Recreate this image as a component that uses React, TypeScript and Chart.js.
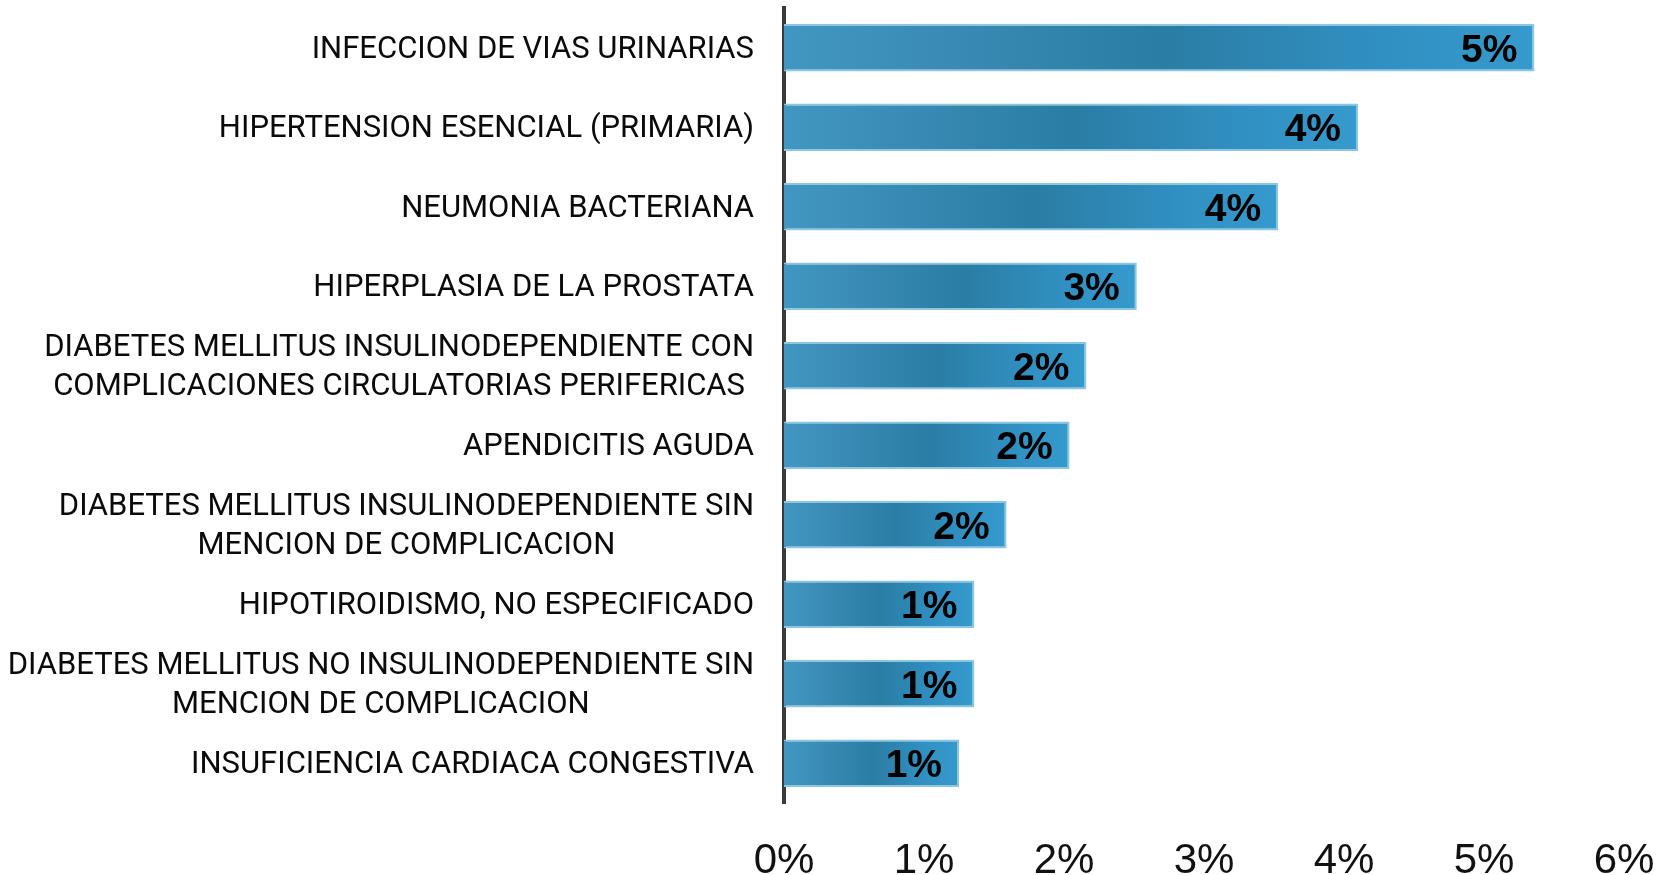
import React, { useEffect, useRef } from "react";
import { Chart, registerables } from "chart.js";

Chart.register(...registerables);

const categories: string[][] = [
  ["INFECCION DE VIAS URINARIAS"],
  ["HIPERTENSION ESENCIAL (PRIMARIA)"],
  ["NEUMONIA BACTERIANA"],
  ["HIPERPLASIA DE LA PROSTATA"],
  ["DIABETES MELLITUS INSULINODEPENDIENTE CON", "COMPLICACIONES CIRCULATORIAS PERIFERICAS"],
  ["APENDICITIS AGUDA"],
  ["DIABETES MELLITUS INSULINODEPENDIENTE SIN", "MENCION DE COMPLICACION"],
  ["HIPOTIROIDISMO, NO ESPECIFICADO"],
  ["DIABETES MELLITUS NO INSULINODEPENDIENTE SIN", "MENCION DE COMPLICACION"],
  ["INSUFICIENCIA CARDIACA CONGESTIVA"],
];

const values: number[] = [5.36, 4.1, 3.53, 2.52, 2.16, 2.04, 1.59, 1.36, 1.36, 1.25];
const dataLabels: string[] = ["5%", "4%", "4%", "3%", "2%", "2%", "2%", "1%", "1%", "1%"];
const xTicks: number[] = [0, 1, 2, 3, 4, 5, 6];

const LABEL_FONT = "31px Roboto";
const NARROW = "'Liberation Sans Narrow', 'Arial Narrow', sans-serif";

const yLabelPlugin = {
  id: "yLabelPlugin",
  afterDraw(chart: any) {
    const ctx = chart.ctx;
    const y = chart.scales.y;
    const right = chart.chartArea.left - 30;
    ctx.save();
    ctx.font = LABEL_FONT;
    ctx.fillStyle = "#0a0a0a";
    ctx.textBaseline = "middle";
    ctx.textAlign = "center";
    const lh = 39;
    categories.forEach((lines, i) => {
      const cy = y.getPixelForValue(i) + 2;
      const w = Math.max(...lines.map((l) => ctx.measureText(l).width));
      const cx = right - w / 2;
      const start = cy - ((lines.length - 1) * lh) / 2;
      lines.forEach((l, j) => ctx.fillText(l, cx, start + j * lh));
    });
    ctx.restore();
  },
};

const dataLabelPlugin = {
  id: "dataLabelPlugin",
  afterDatasetsDraw(chart: any) {
    const ctx = chart.ctx;
    const meta = chart.getDatasetMeta(0);
    ctx.save();
    ctx.font = "bold 39px 'Liberation Sans', Arial, sans-serif";
    ctx.fillStyle = "#000000";
    ctx.textAlign = "right";
    ctx.textBaseline = "middle";
    meta.data.forEach((bar: any, i: number) => {
      ctx.fillText(dataLabels[i], bar.x - 17, bar.y + 3);
    });
    ctx.restore();
  },
};

export default function App() {
  const ref = useRef<HTMLCanvasElement | null>(null);
  useEffect(() => {
    if (!ref.current) return;
    const chart = new Chart(ref.current, {
      type: "bar",
      data: {
        labels: categories.map((c) => c.join(" ")),
        datasets: [
          {
            data: values,
            backgroundColor: (c: any) => {
              const ch = c.chart;
              const xs = ch.scales?.x;
              if (!xs || !ch.chartArea || c.dataIndex === undefined) return "#2f8bb8";
              const x0 = xs.getPixelForValue(0);
              const x1 = xs.getPixelForValue(values[c.dataIndex]);
              if (!isFinite(x0) || !isFinite(x1) || x1 <= x0) return "#2f8bb8";
              const g = ch.ctx.createLinearGradient(x0, 0, x1, 0);
              g.addColorStop(0, "#4197c1");
              g.addColorStop(0.2, "#3a8cb6");
              g.addColorStop(0.5, "#2a7da4");
              g.addColorStop(0.8, "#3190c2");
              g.addColorStop(1, "#359acd");
              return g;
            },
            borderColor: "#8cc6e2",
            borderWidth: { top: 2, right: 2, bottom: 2, left: 0 },
            borderSkipped: "left",
            barPercentage: 0.6,
            categoryPercentage: 1,
          },
        ],
      },
      options: {
        indexAxis: "y",
        animation: false,
        responsive: false,
        devicePixelRatio: 1,
        layout: { padding: { top: 8, right: 37, bottom: 0, left: 0 } },
        plugins: { legend: { display: false }, tooltip: { enabled: false } },
        scales: {
          x: {
            min: 0,
            max: 6,
            afterBuildTicks: (s: any) => {
              s.ticks = xTicks.map((v) => ({ value: v }));
            },
            afterFit: (s: any) => {
              s.height = 72;
              s.paddingRight = 0;
              s.paddingLeft = 0;
            },
            grid: { display: false, drawTicks: false },
            border: { display: false },
            ticks: {
              padding: 33,
              color: "#111111",
              font: { family: NARROW, size: 42 },
              callback: (v: any) => v + "%",
            },
          },
          y: {
            afterFit: (s: any) => {
              s.width = 784;
              s.paddingTop = 0;
              s.paddingBottom = 0;
            },
            grid: { display: false, drawTicks: false },
            border: { display: true, color: "#3a3a3a", width: 4 },
            ticks: { display: false },
          },
        },
      },
      plugins: [yLabelPlugin, dataLabelPlugin],
    } as any);
    return () => chart.destroy();
  }, []);
  return (
    <div style={{ position: "absolute", left: 0, top: 0, width: 1661, height: 875, background: "#fff" }}>
      <canvas ref={ref} width={1661} height={875} />
    </div>
  );
}
